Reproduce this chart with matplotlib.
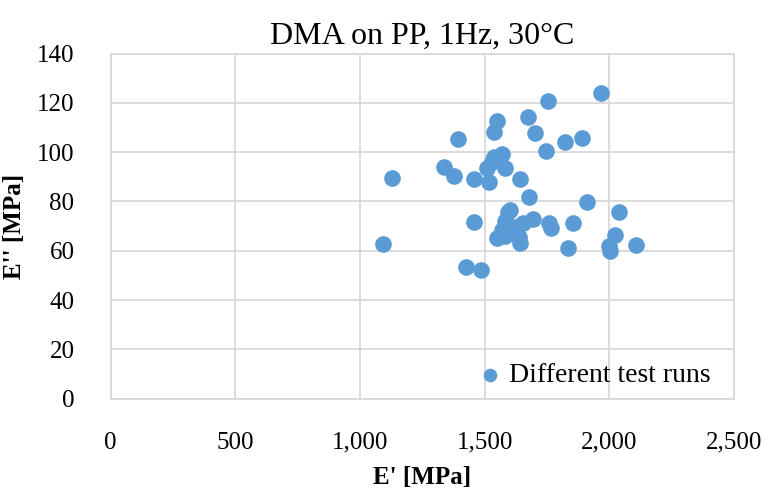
import matplotlib
matplotlib.use('Agg')
from matplotlib import pyplot as plt
from matplotlib.ticker import FuncFormatter

plt.rcParams['font.family'] = ['Liberation Serif', 'DejaVu Serif']

# storage modulus E' [MPa]
e_storage = [1094, 1128, 1339, 1379, 1393, 1426, 1458, 1459, 1485, 1509,
             1516, 1536, 1549, 1536, 1569, 1582, 1640, 1673, 1704, 1756,
             1966, 1746, 1823, 1889, 1679, 1910, 2037, 1603, 1582, 1569,
             1549, 1582, 1622, 1656, 1696, 1636, 1643, 1760, 1767, 1856,
             1836, 2021, 1997, 2004, 2107, 1595, 1530]
# loss modulus E'' [MPa]
e_loss = [62.6, 89.4, 93.8, 90.3, 105.4, 53.5, 89.2, 71.5, 52.2, 93.4,
          87.7, 108.0, 112.7, 98.1, 99.2, 93.4, 89.2, 114.1, 107.9, 120.9,
          124.1, 100.3, 104.0, 105.7, 81.7, 79.6, 75.6, 76.5, 72.2, 68.4,
          65.0, 66.0, 69.7, 71.1, 72.7, 65.5, 63.2, 71.4, 69.1, 71.1,
          61.2, 66.4, 61.9, 59.9, 62.2, 75.8, 96.0]

fig = plt.figure(figsize=(7.68, 4.90), dpi=100)
ax = fig.add_axes([0.1439, 0.1865, 0.8118, 0.7043])

ax.scatter(e_storage, e_loss, s=120, color='#5B9BD5', zorder=3,
           label='Different test runs')

ax.set_xlim(0, 2500)
ax.set_ylim(0, 140)
ax.set_xticks(range(0, 2501, 500))
ax.set_yticks(range(0, 141, 20))
ax.xaxis.set_major_formatter(FuncFormatter(lambda v, p: f'{int(v):,}'))
ax.grid(True, color='#D9D9D9', linewidth=1.3)
ax.set_axisbelow(True)
for s in ax.spines.values():
    s.set_color('#D9D9D9')
    s.set_linewidth(1.3)
ax.tick_params(length=0, labelsize=18, colors='black')
ax.tick_params(axis='x', pad=24)
ax.tick_params(axis='y', pad=26)

ax.set_title('DMA on PP, 1Hz, 30°C', fontsize=23, pad=7)
ax.set_xlabel("E' [MPa]", fontsize=18, fontweight='bold', labelpad=9)
ax.set_ylabel("E'' [MPa]", fontsize=18, fontweight='bold', labelpad=8)

ax.legend(loc='center right', bbox_to_anchor=(0.985, 0.068), frameon=False,
          fontsize=20, handlelength=0.8, handletextpad=0.3,
          markerscale=0.8, borderpad=0)

fig.savefig('out.png', dpi=100)
